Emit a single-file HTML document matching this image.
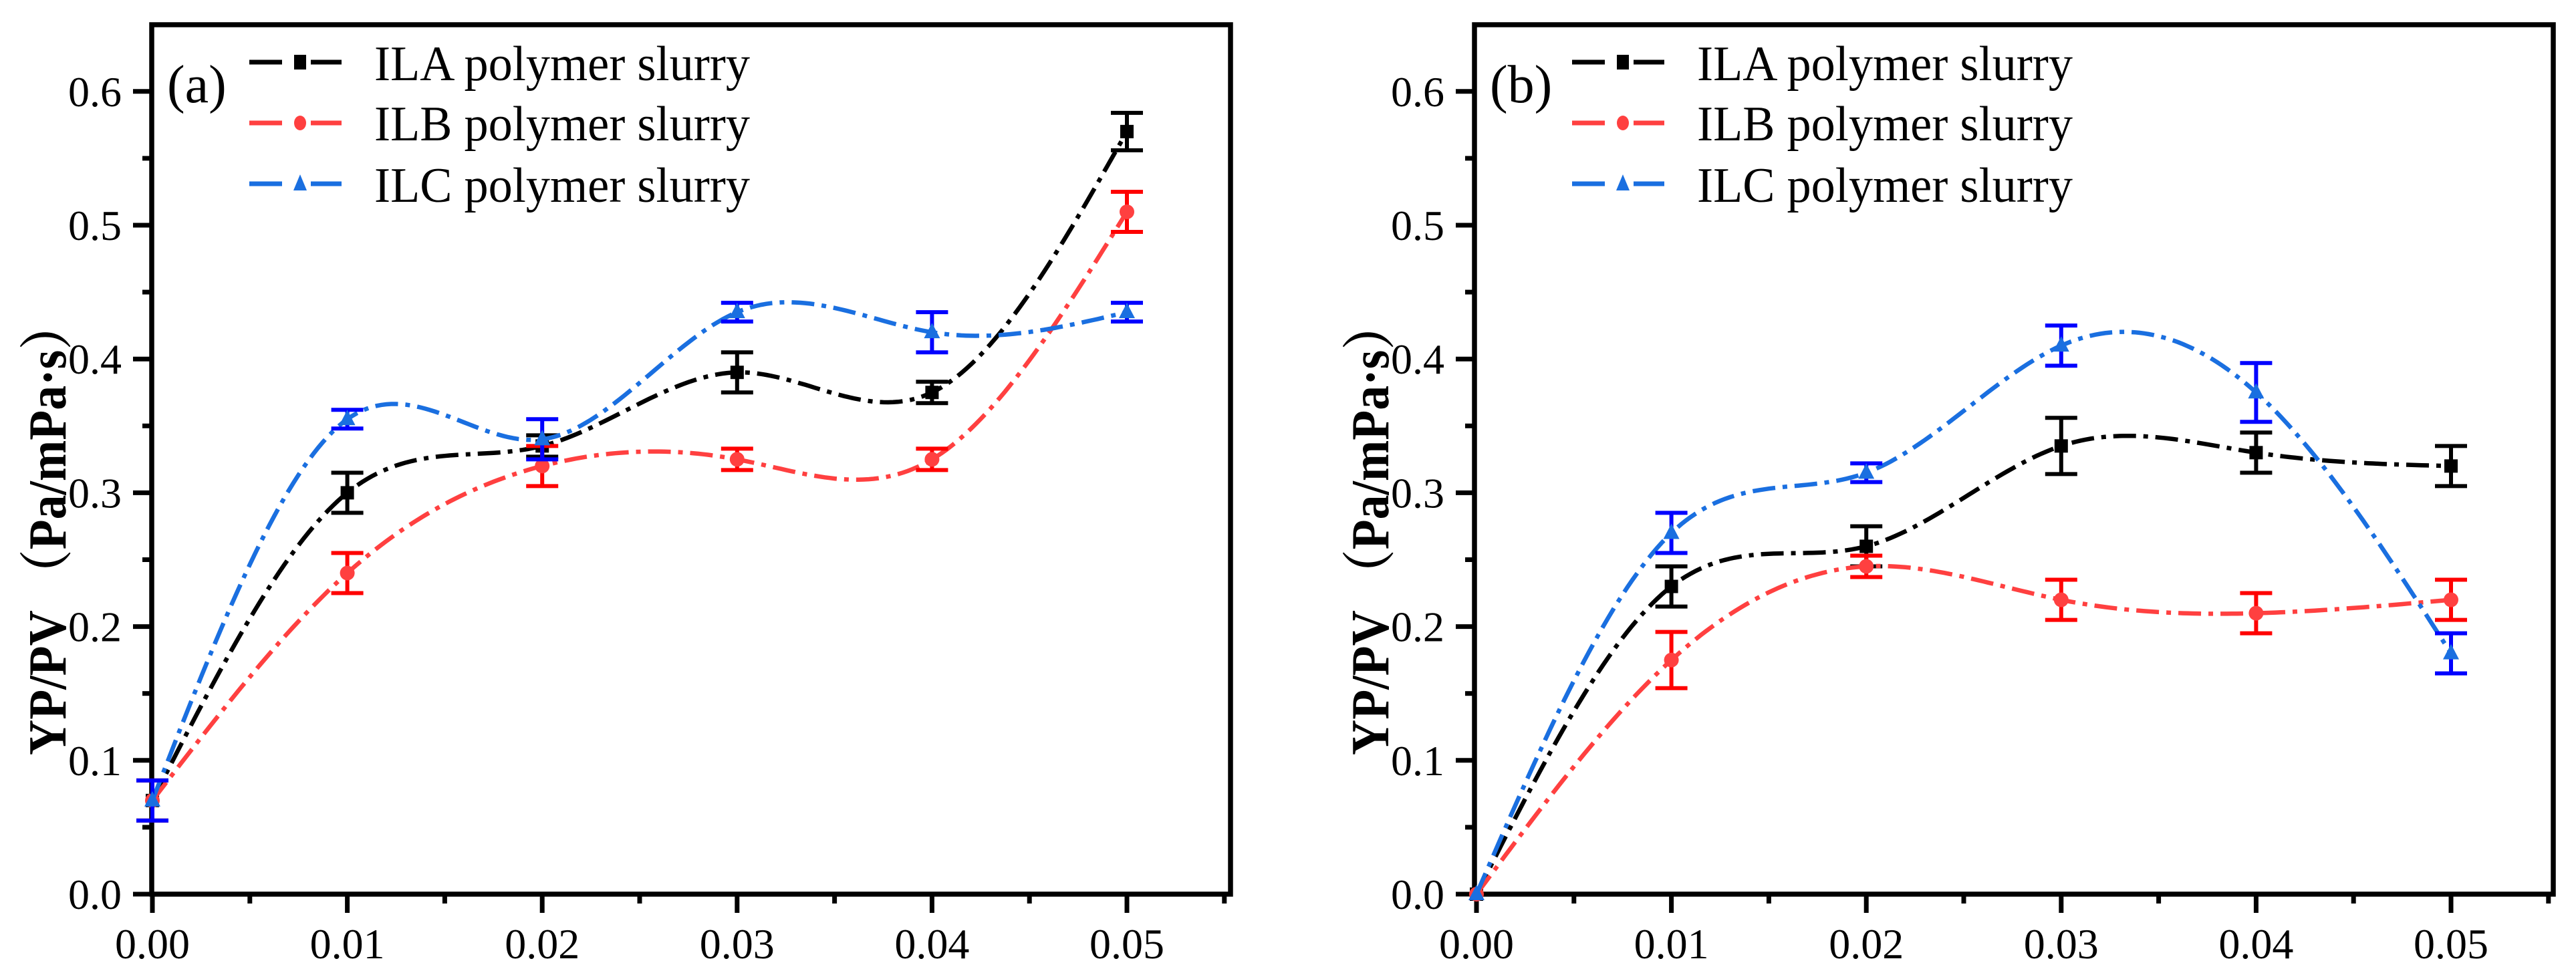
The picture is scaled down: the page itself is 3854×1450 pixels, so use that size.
<!DOCTYPE html>
<html><head><meta charset="utf-8"><style>
html,body{margin:0;padding:0;background:#fff;}
svg{display:block;font-family:"Liberation Serif","Noto Serif CJK SC",serif;}
svg text{font-family:"Liberation Serif","Noto Serif CJK SC",serif !important;}
</style></head><body>
<svg id="chart" width="3854" height="1450" viewBox="0 0 3854 1450" xmlns="http://www.w3.org/2000/svg" font-family="Liberation Serif, Noto Serif CJK SC, serif"></svg>
<script>
const xValues=[0,0.01,0.02,0.03,0.04,0.05];
const xTickLabels=["0.00","0.01","0.02","0.03","0.04","0.05"];
const yTickLabels=["0.0","0.1","0.2","0.3","0.4","0.5","0.6"];
const seriesNames=["ILA polymer slurry","ILB polymer slurry","ILC polymer slurry"];
const aILA=[0.07,0.30,0.335,0.39,0.375,0.57];
const aILAerr=[0.015,0.015,0.008,0.015,0.008,0.014];
const aILB=[0.07,0.24,0.32,0.325,0.325,0.51];
const aILBerr=[0.015,0.015,0.015,0.008,0.008,0.015];
const aILC=[0.07,0.355,0.34,0.435,0.42,0.435];
const aILCerr=[0.015,0.007,0.015,0.007,0.015,0.007];
const bILA=[0,0.23,0.26,0.335,0.33,0.32];
const bILAerr=[0,0.015,0.015,0.021,0.015,0.015];
const bILB=[0,0.175,0.245,0.22,0.21,0.22];
const bILBerr=[0,0.021,0.008,0.015,0.015,0.015];
const bILC=[0,0.27,0.315,0.41,0.375,0.18];
const bILCerr=[0,0.015,0.007,0.015,0.022,0.015];

const NS="http://www.w3.org/2000/svg";
const FONT="'Liberation Serif','Noto Serif CJK SC',serif";
const svg=document.getElementById('chart');
function el(tag,attrs,parent){const e=document.createElementNS(NS,tag);for(const k in attrs)e.setAttribute(k,attrs[k]);if(tag==='text'){e.setAttribute('font-family',FONT);e.style.fontFamily=FONT;}(parent||svg).appendChild(e);return e;}

function spline(xs,ys){
  const n=xs.length,h=[],al=[0],l=[1],mu=[0],z=[0],c=new Array(n).fill(0),b=[],d=[];
  for(let i=0;i<n-1;i++)h.push(xs[i+1]-xs[i]);
  for(let i=1;i<n-1;i++)al.push(3/h[i]*(ys[i+1]-ys[i])-3/h[i-1]*(ys[i]-ys[i-1]));
  for(let i=1;i<n-1;i++){l[i]=2*(xs[i+1]-xs[i-1])-h[i-1]*mu[i-1];mu[i]=h[i]/l[i];z[i]=(al[i]-h[i-1]*z[i-1])/l[i];}
  for(let j=n-2;j>=0;j--){c[j]=(z[j]||0)-mu[j]*c[j+1];b[j]=(ys[j+1]-ys[j])/h[j]-h[j]*(c[j+1]+2*c[j])/3;d[j]=(c[j+1]-c[j])/(3*h[j]);}
  return t=>{let j=xs.findIndex((v,i)=>i<n-1&&t<=xs[i+1]);if(j<0)j=n-2;const dx=t-xs[j];return ys[j]+b[j]*dx+c[j]*dx*dx+d[j]*dx*dx*dx;};
}

const colors={line:["#000","#ff4040","#1a6fe0"],err:["#000","#ff0000","#0000ff"]};

function panel(id,left,x0,yLabelX,label,sets){
  const g=el('g',{});
  
  
  const right=left+1614, top=37, bottom=1338, y0=1338, ppy=2002;
  const ppx=291.6/0.01;
  const X=v=>x0+v*ppx, Y=v=>y0-v*ppy;
  for(let i=0;i<=13;i++){const v=i*0.05;const y=Y(v);if(y<top+5)continue;
    const t=el('line',{x1:left,x2:left-(i%2?14:28),y1:y,y2:y,stroke:'#000','stroke-width':7},g);
    }
  yTickLabels.forEach((s,i)=>{const t=el('text',{x:182+(left-227),y:Y(i*0.1)+22,'font-size':64,'text-anchor':'end'},g);t.textContent=s;
    });
  for(let i=0;i<=11;i++){const x=X(i*0.005);if(x>right-5)continue;
    const t=el('line',{x1:x,x2:x,y1:bottom,y2:bottom+(i%2?14:28),stroke:'#000','stroke-width':7},g);
    }
  xTickLabels.forEach((s,i)=>{const t=el('text',{x:X(xValues[i]),y:1434,'font-size':64,'text-anchor':'middle'},g);t.textContent=s;
    });
  const frame=el('rect',{x:left,y:top,width:right-left,height:bottom-top,fill:'none',stroke:'#000','stroke-width':7.5},g);
  
  const yt=el('text',{transform:`translate(${yLabelX},790) rotate(-90)`,'font-size':80,'font-weight':'bold','text-anchor':'middle',textLength:680,lengthAdjust:'spacingAndGlyphs'},g);
  yt.textContent='YP/PV （Pa/mPa·s）';
  
  sets.forEach((s,k)=>{
    const sg=el('g',{},g);
    
    
    const f=spline(xValues,s.v);let d='';
    for(let i=0;i<=200;i++){const t=0.05*i/200;d+=(i?'L':'M')+X(t).toFixed(1)+','+Y(f(t)).toFixed(1);}
    const p=el('path',{d:d,fill:'none',stroke:colors.line[k],'stroke-width':6.5,'stroke-dasharray':'34 11 7 11'},sg);
    
    s.v.forEach((v,i)=>{
      const x=X(xValues[i]),y=Y(v),e=s.e[i];
      if(e>0){
        const eb=el('path',{d:`M${x},${Y(v-e)}V${Y(v+e)}M${x-24},${Y(v-e)}H${x+24}M${x-24},${Y(v+e)}H${x+24}`,stroke:colors.err[k],'stroke-width':6,fill:'none'},sg);
        
      }
      let m;
      if(k==0)m=el('rect',{x:x-10,y:y-10,width:20,height:20,fill:'#000'},sg);
      else if(k==1)m=el('circle',{cx:x,cy:y,r:11,fill:colors.line[1]},sg);
      else m=el('polygon',{points:`${x},${y-14} ${x-12},${y+9} ${x+12},${y+9}`,fill:colors.line[2]},sg);
      
    });
  });
  const lg=el('g',{},g);
  
  const dx=left-227;
  [93,184,275].forEach((ly,k)=>{
    const eg=el('g',{},lg);
    
    el('line',{x1:373+dx,x2:422+dx,y1:ly,y2:ly,stroke:colors.line[k],'stroke-width':7},eg);
    el('line',{x1:465+dx,x2:511+dx,y1:ly,y2:ly,stroke:colors.line[k],'stroke-width':7},eg);
    const x=449+dx;
    if(k==0)el('rect',{x:x-9,y:ly-11,width:18,height:22,fill:'#000'},eg);
    else if(k==1)el('ellipse',{cx:x,cy:ly,rx:9,ry:11,fill:colors.line[1]},eg);
    else el('polygon',{points:`${x},${ly-14} ${x-10},${ly+10} ${x+10},${ly+10}`,fill:colors.line[2]},eg);
    const t=el('text',{x:560+dx,y:[120,210,302][k],'font-size':74,textLength:562,lengthAdjust:'spacingAndGlyphs'},eg);t.textContent=seriesNames[k];
  });
  const pl=el('text',{x:250+dx,y:153,'font-size':80},g);pl.textContent=label;
  
}
panel('a',227,228,98,'(a)',[{v:aILA,e:aILAerr},{v:aILB,e:aILBerr},{v:aILC,e:aILCerr}]);
panel('b',2206,2209,2077,'(b)',[{v:bILA,e:bILAerr},{v:bILB,e:bILBerr},{v:bILC,e:bILCerr}]);
</script>
</body></html>
